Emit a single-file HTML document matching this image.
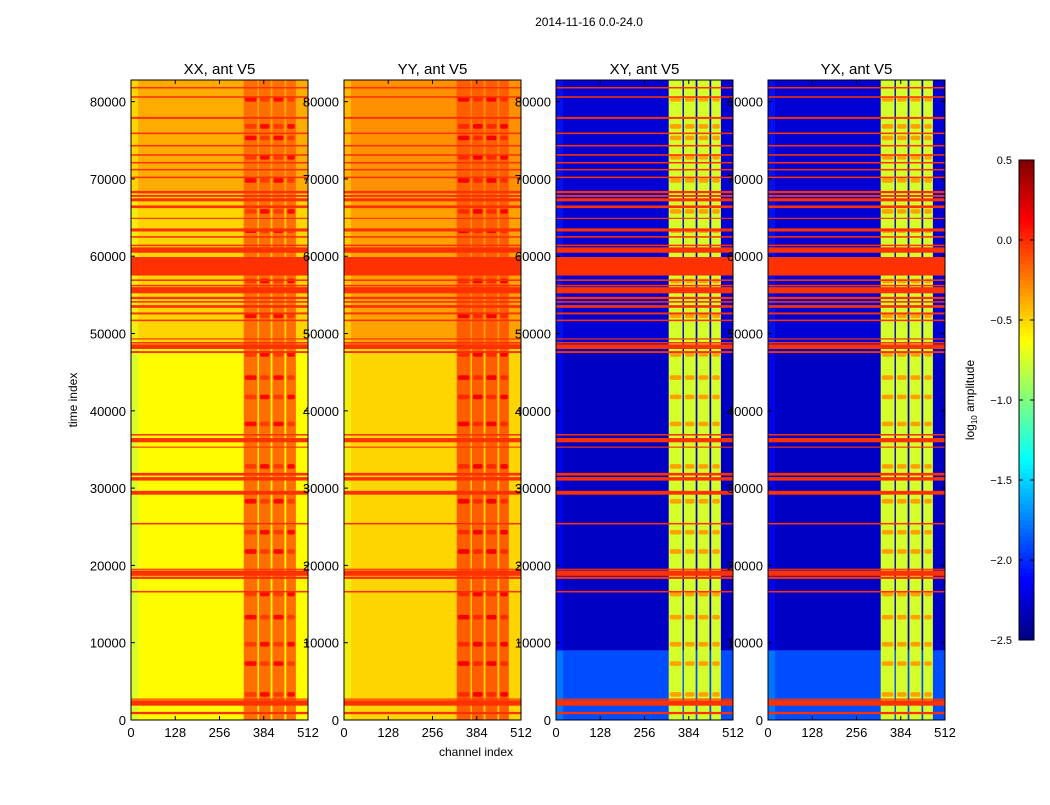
<!DOCTYPE html>
<html><head><meta charset="utf-8"><style>
body{margin:0;background:#fff;font-family:"Liberation Sans",sans-serif}
svg text{font-family:"Liberation Sans",sans-serif}
</style></head><body>
<svg id="fig" width="1050" height="800" xmlns="http://www.w3.org/2000/svg">
<rect width="1050" height="800" fill="#fff"/>
<text x="589" y="26" font-size="12" text-anchor="middle">2014-11-16 0.0-24.0</text>
<text x="476" y="756" font-size="12" text-anchor="middle">channel index</text>
<text x="77" y="400" font-size="12" text-anchor="middle" transform="rotate(-90 77 400)">time index</text>
<g id="panels"></g>
<g id="cbar"></g>
</svg>
<script>
// ---- data ----
const panelTitles = ["XX, ant V5","YY, ant V5","XY, ant V5","YX, ant V5"];
const xTicks = [0,128,256,384,512];
const yTicks = [0,10000,20000,30000,40000,50000,60000,70000,80000];
const cbTicks = [0.5,0.0,-0.5,-1.0,-1.5,-2.0,-2.5];
// base level segments per panel: [tStart,tEnd,level]
const baseXX = [[0,48000,-0.62],[48000,68000,-0.5],[68000,82800,-0.38]];
const baseYY = [[0,48000,-0.5],[48000,68000,-0.35],[68000,82800,-0.3]];
const baseXY = [[0,9000,-1.9],[9000,48000,-2.3],[48000,82800,-2.25]];
const baseYX = [[0,9000,-1.9],[9000,48000,-2.3],[48000,82800,-2.25]];
// bright channel bands [chStart,chEnd]
const bandChans = [[326,366],[370,404],[409,444],[449,477]];
const bandLevelAuto = [-0.2,-0.15];
const bandLevelCross = -0.75;
// spot rows in bands
const spotTimes = [3000,7000,9500,13000,16000,21500,24000,28000,32500,38000,41500,44000,47000,52000,56500,63000,65500,69500,72500,75000,76500,80000];
// RFI flag rows [time, thickness]
const flagRows = [[900,300],[2200,700],[2700,150],[16600,200],[18400,300],[19000,700],[19500,150],[25400,200],[29400,500],[31200,450],[31800,350],[35300,150],[36200,550],[36900,200],[47600,250],[48300,600],[48800,200],[49300,150],[51700,200],[52600,250],[53500,350],[54100,200],[54600,300],[55600,800],[56200,200],[56900,200],[58700,2400],[60800,700],[61400,200],[62500,200],[63400,400],[64900,150],[66400,350],[67300,400],[67800,250],[68300,300],[70200,200],[71200,200],[72100,200],[73100,200],[74300,200],[75900,200],[77900,250],[80600,200],[81800,200]];
const flagLevel = -0.02;
const cbMin=-2.5, cbMax=0.5;
// ---- layout ----
const panelX=[131,344,556,768], pw=177, pTop=80, pBot=720, tMax=82800, nCh=512;
const NS="http://www.w3.org/2000/svg";
function jet(v){let t=(v-cbMin)/(cbMax-cbMin);t=Math.max(0,Math.min(1,t));
 const c=x=>Math.round(255*Math.max(0,Math.min(1,1.5-Math.abs(4*t-x))));
 return `rgb(${c(3)},${c(2)},${c(1)})`;}
function mk(tag,attrs,parent){const e=document.createElementNS(NS,tag);for(const k in attrs)e.setAttribute(k,attrs[k]);parent.appendChild(e);return e;}
const yS=t=>pBot-(t/tMax)*(pBot-pTop);
const root=document.getElementById('panels');
const bases=[baseXX,baseYY,baseXY,baseYX];
panelTitles.forEach((title,i)=>{
 const x0=panelX[i], xS=c=>x0+c/nCh*pw, cross=i>=2;
 const g=mk('g',{},root);
 
 
 bases[i].forEach(s=>{
  const r=mk('rect',{x:x0,y:yS(s[1]),width:pw,height:yS(s[0])-yS(s[1]),fill:jet(s[2])},g);
  
  
  const e=mk('rect',{x:x0,y:yS(s[1]),width:pw*0.04,height:yS(s[0])-yS(s[1]),fill:jet(s[2]-(cross?-0.2:0.2)),opacity:0.6},g);
  
  
 });
 bandChans.forEach((b,j)=>{
  const lv=cross?bandLevelCross:bandLevelAuto[i];
  const r=mk('rect',{x:xS(b[0]),y:pTop,width:xS(b[1])-xS(b[0]),height:pBot-pTop,fill:jet(lv)},g);
  
  
  spotTimes.forEach((t,k)=>{
   const lvS=cross?-0.35:lv+0.3*((k+j)%2?1:0.5);
   const s=mk('rect',{x:xS(b[0])+1,y:yS(t+600),width:xS(b[1])-xS(b[0])-2,height:yS(t)-yS(t+600),fill:jet(lvS),rx:2},g);
   
   
  });
 });
 flagRows.forEach(f=>{
  const r=mk('rect',{x:x0,y:yS(f[0]+f[1]/2),width:pw,height:Math.max(1,yS(f[0]-f[1]/2)-yS(f[0]+f[1]/2)),fill:jet(flagLevel)},g);
  
  
 });
 mk('rect',{x:x0,y:pTop,width:pw,height:pBot-pTop,fill:'none',stroke:'#000','stroke-width':1},g);
 const tt=mk('text',{x:x0+pw/2,y:74,'font-size':15,'text-anchor':'middle'},g);tt.textContent=title;
 
 
 xTicks.forEach(c=>{
  const x=xS(c);
  mk('line',{x1:x,x2:x,y1:pBot,y2:pBot-4,stroke:'#000'},g);
  mk('line',{x1:x,x2:x,y1:pTop,y2:pTop+4,stroke:'#000'},g);
  const l=mk('text',{x:x,y:737,'font-size':13,'text-anchor':'middle'},g);l.textContent=c;
  
  
 });
 yTicks.forEach(t=>{
  const y=yS(t);
  mk('line',{x1:x0,x2:x0+4,y1:y,y2:y,stroke:'#000'},g);
  mk('line',{x1:x0+pw,x2:x0+pw-4,y1:y,y2:y,stroke:'#000'},g);
  const l=mk('text',{x:x0-5,y:y+5,'font-size':13,'text-anchor':'end'},g);l.textContent=t;
  
  
 });
});
// colorbar
const cb=document.getElementById('cbar');
const cbX=1019,cbW=15,cbT=160,cbB=640;
const cy=v=>cbB-(v-cbMin)/(cbMax-cbMin)*(cbB-cbT);
for(let k=0;k<120;k++){const v0=cbMin+k*(cbMax-cbMin)/120, v1=cbMin+(k+1)*(cbMax-cbMin)/120;
 const r=mk('rect',{x:cbX,y:cy(v1),width:cbW,height:cy(v0)-cy(v1)+0.5,fill:jet((v0+v1)/2)},cb);
 
 }
mk('rect',{x:cbX,y:cbT,width:cbW,height:cbB-cbT,fill:'none',stroke:'#000'},cb);
cbTicks.forEach(v=>{const y=cy(v);
 mk('line',{x1:cbX,x2:cbX+4,y1:y,y2:y,stroke:'#000'},cb);
 mk('line',{x1:cbX+cbW,x2:cbX+cbW-4,y1:y,y2:y,stroke:'#000'},cb);
 const l=mk('text',{x:1012,y:y+4,'font-size':11,'text-anchor':'end'},cb);l.textContent=(v<0?'\u2212':'')+Math.abs(v).toFixed(1);
 
 });
const cl=mk('text',{x:974,y:400,'font-size':12,'text-anchor':'middle',transform:'rotate(-90 974 400)'},cb);
cl.innerHTML='log<tspan font-size="8" dy="3">10</tspan><tspan dy="-3"> amplitude</tspan>';


</script>
</body></html>
